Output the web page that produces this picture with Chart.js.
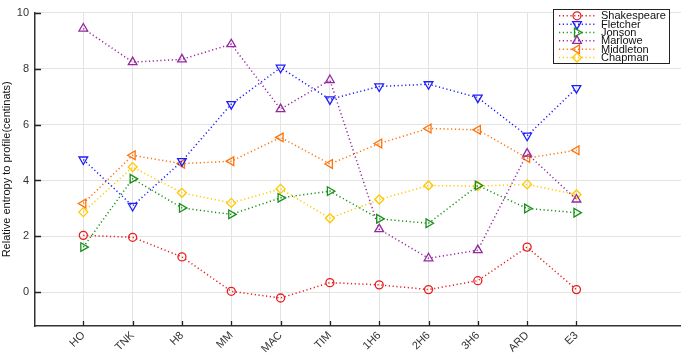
<!DOCTYPE html>
<html>
<head>
<meta charset="utf-8">
<script src="https://cdn.jsdelivr.net/npm/chart.js@4"></script>
<style>
  html, body { margin: 0; padding: 0; background: #fff; }
  #cvs { display: block; }
</style>
</head>
<body>
<canvas id="cvs" width="681" height="353"></canvas>
<script>
// plays along the x axis
var plays = ["HO", "TNK", "H8", "MM", "MAC", "TIM", "1H6", "2H6", "3H6", "ARD", "E3"];

// relative entropy per author (centinats)
var shakespeare = [2.04, 1.97, 1.27, 0.04, -0.20, 0.35, 0.27, 0.10, 0.42, 1.62, 0.10];
var fletcher    = [4.75, 3.09, 4.69, 6.73, 8.03, 6.90, 7.36, 7.44, 6.96, 5.60, 7.30];
var jonson      = [1.62, 4.06, 3.02, 2.79, 3.38, 3.62, 2.63, 2.47, 3.82, 3.00, 2.85];
var marlowe     = [9.43, 8.23, 8.33, 8.87, 6.55, 7.59, 2.26, 1.22, 1.51, 4.96, 3.32];
var middleton   = [3.18, 4.90, 4.60, 4.69, 5.54, 4.59, 5.32, 5.86, 5.81, 4.80, 5.08];
var chapman     = [2.87, 4.48, 3.56, 3.20, 3.70, 2.65, 3.32, 3.82, 3.80, 3.86, 3.50];

var yTicks = [0, 2, 4, 6, 8, 10];

function pts(arr) {
	return arr.map(function (v, i) { return { x: i, y: v }; });
}

function series(label, arr, color, style, rot, r) {
	return {
		label: label,
		data: pts(arr),
		borderColor: color,
		backgroundColor: "rgba(0,0,0,0)",
		borderWidth: 1.5,
		borderDash: [1.2, 2.6],
		pointStyle: style,
		pointRotation: rot,
		pointRadius: r,
		pointBorderWidth: 1.3,
		pointBorderColor: color,
		pointBackgroundColor: "rgba(0,0,0,0)",
		tension: 0,
		fill: false
	};
}

var FONT = "'Liberation Sans', Arial, sans-serif";

// legend drawn by hand so it gets a black frame like the original
var boxLegend = {
	id: "boxLegend",
	afterDraw: function (chart) {
		var ctx = chart.ctx;
		var x0 = 553, y0 = 9.5, w = 116, h = 54;
		ctx.save();
		ctx.fillStyle = "#fff";
		ctx.fillRect(x0, y0, w, h);
		ctx.strokeStyle = "#222";
		ctx.lineWidth = 1;
		ctx.strokeRect(x0 + 0.5, y0, w, h);
		chart.data.datasets.forEach(function (ds, i) {
			var cy = y0 + 6.3 + i * 8.35;
			ctx.strokeStyle = ds.borderColor;
			ctx.lineWidth = 1.5;
			ctx.setLineDash([1.2, 2.6]);
			ctx.beginPath();
			ctx.moveTo(559, cy);
			ctx.lineTo(597, cy);
			ctx.stroke();
			ctx.setLineDash([]);
			ctx.fillStyle = "rgba(0,0,0,0)";
			ctx.lineWidth = 1.3;
			Chart.helpers.drawPoint(ctx, {
				pointStyle: ds.pointStyle,
				radius: ds.pointRadius,
				rotation: ds.pointRotation,
				borderWidth: 1.3
			}, 577, cy);
			ctx.fillStyle = "#111";
			ctx.font = "11px " + FONT;
			ctx.textBaseline = "middle";
			ctx.textAlign = "left";
			ctx.fillText(ds.label, 601, cy + 0.5);
		});
		ctx.restore();
	}
};

// inward tick marks on both axes
var innerTicks = {
	id: "innerTicks",
	afterDatasetsDraw: function (chart) {
		var ctx = chart.ctx, a = chart.chartArea;
		var xs = chart.scales.x, ys = chart.scales.y;
		ctx.save();
		ctx.strokeStyle = "#222";
		ctx.lineWidth = 1.3;
		ctx.beginPath();
		yTicks.forEach(function (v) {
			var py = Math.round(ys.getPixelForValue(v)) + 0.5;
			ctx.moveTo(a.left, py);
			ctx.lineTo(a.left + 6, py);
		});
		plays.forEach(function (p, i) {
			var px = Math.round(xs.getPixelForValue(i)) + 0.5;
			ctx.moveTo(px, a.bottom);
			ctx.lineTo(px, a.bottom - 5);
		});
		ctx.stroke();
		ctx.restore();
	}
};

var chart = new Chart("cvs", {
	type: "line",
	data: {
		datasets: [
			series("Shakespeare", shakespeare, "rgb(232,30,30)", "circle", 0, 4),
			series("Fletcher", fletcher, "rgb(30,30,250)", "triangle", 180, 5),
			series("Jonson", jonson, "rgb(25,145,25)", "triangle", 90, 5),
			series("Marlowe", marlowe, "rgb(150,40,160)", "triangle", 0, 5),
			series("Middleton", middleton, "rgb(255,115,10)", "triangle", 270, 5),
			series("Chapman", chapman, "rgb(255,200,0)", "rectRot", 0, 4.5)
		]
	},
	options: {
		responsive: false,
		devicePixelRatio: 1,
		animation: false,
		layout: { autoPadding: false, padding: { top: 11, right: 0, left: 0, bottom: 0 } },
		plugins: {
			legend: { display: false },
			tooltip: { enabled: false }
		},
		scales: {
			x: {
				type: "linear",
				min: -0.98,
				max: 12.12,
				afterBuildTicks: function (scale) {
					scale.ticks = plays.map(function (p, i) { return { value: i }; });
				},
				afterFit: function (scale) {
					scale.height = 27;
					scale.paddingLeft = 0;
					scale.paddingRight = 0;
				},
				ticks: {
					autoSkip: false,
					minRotation: 45,
					maxRotation: 45,
					padding: 3,
					color: "#333",
					font: { family: FONT, size: 11 },
					callback: function (v) { return plays[v]; }
				},
				grid: { color: "#e3e3e3", lineWidth: 1, drawTicks: false },
				border: { color: "#333", width: 1.5 }
			},
			y: {
				min: -1.2,
				max: 10,
				afterBuildTicks: function (scale) {
					scale.ticks = yTicks.map(function (v) { return { value: v }; });
				},
				afterFit: function (scale) { scale.width = 35; },
				ticks: {
					padding: 6,
					color: "#333",
					font: { family: FONT, size: 11 }
				},
				grid: { color: "#e3e3e3", lineWidth: 1, drawTicks: false },
				border: { color: "#333", width: 1.5 },
				title: {
					display: true,
					text: "Relative entropy to profile(centinats)",
					color: "#111",
					padding: 0,
					font: { family: FONT, size: 11 }
				}
			}
		}
	},
	plugins: [innerTicks, boxLegend]
});
</script>
</body>
</html>
